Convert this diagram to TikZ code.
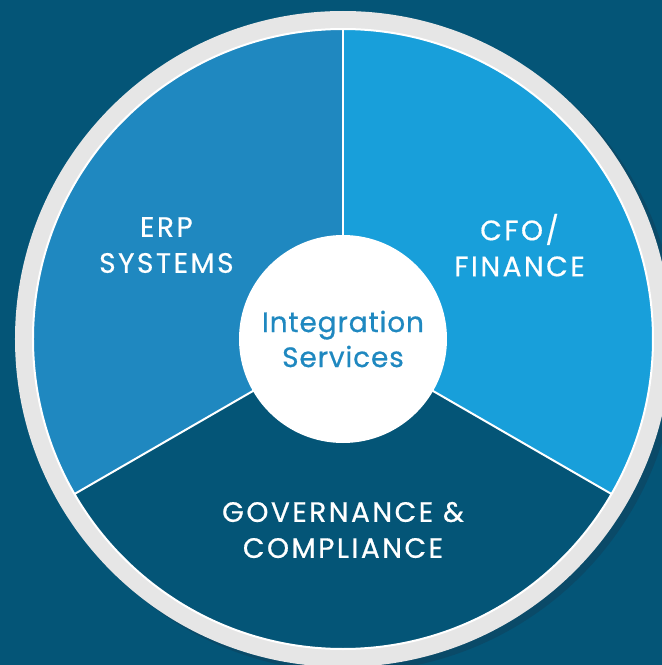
\documentclass[tikz,border=0pt]{standalone}
\usepackage{fontspec}
\setmainfont{Poppins}
\newfontfamily\capsfont{Poppins}[LetterSpace=9, FakeBold=0.6]
\newfontfamily\corefont{Poppins}[LetterSpace=3, FakeBold=0.6]
\usetikzlibrary{positioning}

\definecolor{bgteal}{HTML}{045577}
\definecolor{shadeteal}{HTML}{0A4A68}
\definecolor{ringgrey}{HTML}{E6E6E6}
\definecolor{erpblue}{HTML}{1F88C0}
\definecolor{cfoblue}{HTML}{189FDA}
\definecolor{govteal}{HTML}{045577}

\begin{document}
\begin{tikzpicture}[x=1pt, y=1pt,
    label/.style={text=white, align=center, font=\capsfont\fontsize{28}{36}\selectfont},
    core/.style={circle, fill=white, minimum size=208pt, inner sep=0pt,
                 text=erpblue, align=center, font=\corefont\fontsize{28}{35}\selectfont},
    divider/.style={draw=white, line width=2pt}]

\def \rout {328}
\def \rin {310}

% background and ring
\fill[bgteal] (-343,-326) rectangle (319,339);
\useasboundingbox (-343,-326) rectangle (319,339);
\fill[shadeteal] (6,-5) circle (\rout);
\fill[ringgrey] (0,0) circle (\rout);

% the three segments
\fill[cfoblue] (0,0) -- (-30:\rin) arc (-30:90:\rin) -- cycle;
\fill[erpblue] (0,0) -- (90:\rin) arc (90:210:\rin) -- cycle;
\fill[govteal] (0,0) -- (210:\rin) arc (210:330:\rin) -- cycle;
\draw[divider] (0,0) circle (\rin);

\coordinate (hub) at (0,0);
\foreach \a in {90,210,330}
{
    \draw[divider] (hub) -- (\a:\rin);
}

\node[core] (core) at (hub) {Integration\\Services};

\node[label] (erp) at (152:200) {ERP\\SYSTEMS};
\node[label] (cfo) at (28:200) {CFO/\\FINANCE};
\node[label] (gov) at (270:191) {GOVERNANCE \&\\COMPLIANCE};
\end{tikzpicture}
\end{document}
